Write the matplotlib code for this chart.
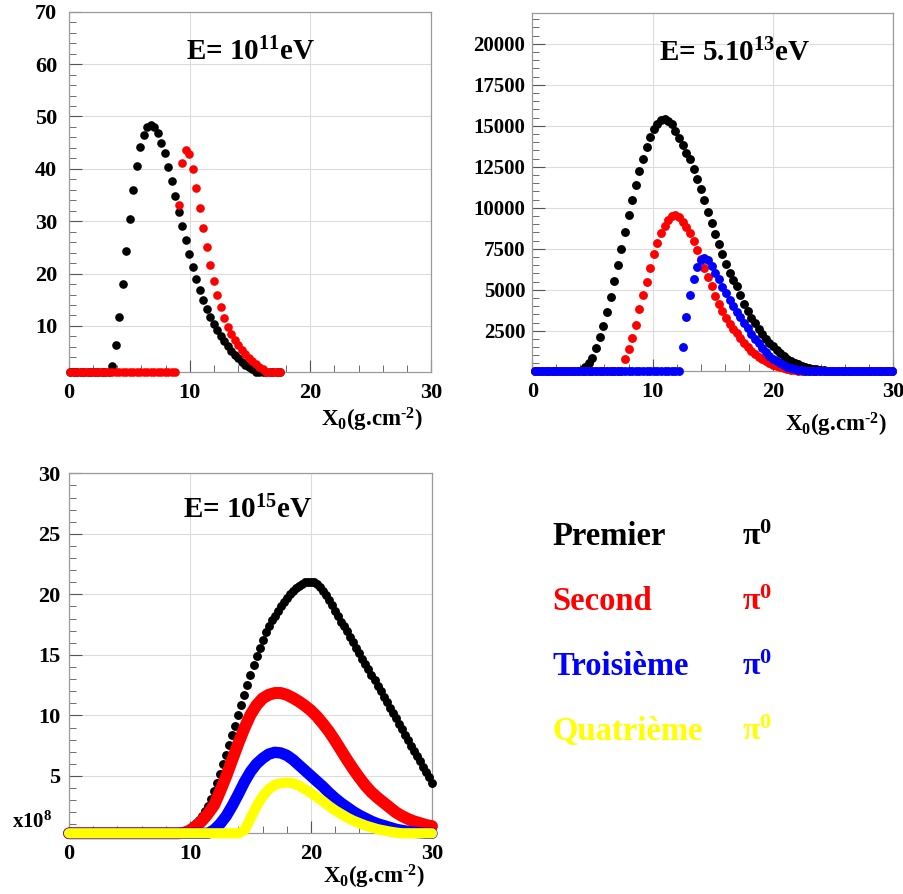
import numpy as np
import matplotlib
matplotlib.use("Agg")
import matplotlib.pyplot as plt
from matplotlib.ticker import MultipleLocator

plt.rcParams['font.family'] = ['Liberation Serif', 'DejaVu Serif']
plt.rcParams['font.weight'] = 'bold'
plt.rcParams['mathtext.fontset'] = 'custom'
plt.rcParams['mathtext.rm'] = 'Liberation Serif:bold'
plt.rcParams['mathtext.it'] = 'Liberation Serif:italic:bold'
plt.rcParams['mathtext.bf'] = 'Liberation Serif:bold'

# ---------------- data ----------------
# Panel 1 : E = 1e11 eV   (x = 0.1 + 0.29 k)
p1_x0, p1_dx = 0.1, 0.29
p1_premier = [0, 0, 0, 0, 0, 0, 0, 0, 0, 0,
              0, 0, 2.4, 6.4, 11.8, 18.0, 24.3, 30.5, 35.9, 40.5,
              44.1, 46.4, 48.0, 48.3, 47.9, 46.8, 45.0, 43.0, 40.4, 37.7,
              34.8, 31.8, 29.1, 26.5, 23.8, 21.3, 19.0, 16.9, 15.0, 13.3,
              11.8, 10.4, 9.2, 8.1, 7.1, 6.1, 5.3, 4.5, 3.8, 3.2,
              2.6, 2.1, 1.7, 1.3, 1.0, 0.7, 0.5, 0.3, 0.15, 0.05,
              0]
p1_second = [0, 0, 0, 0, 0, 0, 0, 0, 0, 0,
             0, 0, 0, 0, 0, 0, 0, 0, 0, 0,
             0, 0, 0, 0, 0, 0, 0, 0, 0, 0,
             0, 33.1, 41.2, 43.6, 42.8, 39.9, 36.4, 32.5, 28.8, 25.0,
             21.6, 18.5, 15.9, 13.7, 11.5, 9.8, 8.5, 7.3, 6.3, 5.4,
             4.6, 3.9, 3.3, 2.7, 2.2, 1.7, 1.3, 0.9, 0.6, 0.3,
             0.1]

# Panel 2 : E = 5.10^13 eV   (x = 0.2 + 0.3 k)
p2_x0, p2_dx = 0.2, 0.3
p2_premier = [0, 0, 0, 0, 0, 0, 0, 0, 0, 0,
              0, 0, 40, 120, 280, 550, 850, 1430, 2100, 2770,
              3650, 4580, 5530, 6500, 7500, 8550, 9550, 10500, 11400, 12250,
              13000, 13700, 14300, 14800, 15120, 15350, 15430, 15300, 15100, 14700,
              14230, 13800, 13350, 12950, 12350, 11750, 11150, 10450, 9750, 9100,
              8400, 7800, 7200, 6550, 6050, 5600, 5200, 4700, 4150, 3700,
              3300, 2950, 2600, 2300, 2020, 1780, 1550, 1350, 1150, 980,
              800, 680, 560, 460, 370, 290, 230, 180, 140, 110,
              85, 65, 50, 38, 28, 20, 15, 10, 7, 5,
              0, 0, 0, 0, 0, 0, 0, 0, 0, 0]
p2_second = [0, 0, 0, 0, 0, 0, 0, 0, 0, 0,
             0, 0, 0, 0, 0, 0, 0, 0, 0, 0,
             0, 0, 0, 0, 0, 780, 1400, 2040, 2850, 3800,
             4650, 5480, 6300, 7200, 7880, 8480, 8880, 9275, 9480, 9550,
             9420, 9150, 8850, 8450, 7980, 7450, 6900, 6350, 5800, 5200,
             4620, 4150, 3700, 3250, 2900, 2600, 2330, 2050, 1780, 1520,
             1280, 1080, 900, 750, 630, 520, 420, 330, 260, 200,
             150, 110, 80, 55, 40, 28, 18, 10, 5, 0,
             0, 0, 0, 0, 0, 0, 0, 0, 0, 0,
             0, 0, 0, 0, 0, 0, 0, 0, 0, 0]
p2_troisieme = [0, 0, 0, 0, 0, 0, 0, 0, 0, 0,
                0, 0, 0, 0, 0, 0, 0, 0, 0, 0,
                0, 0, 0, 0, 0, 0, 0, 0, 0, 0,
                0, 0, 0, 0, 0, 0, 0, 0, 0, 0,
                0, 1500, 3350, 4650, 5650, 6400, 6800, 6930, 6800, 6450,
                6000, 5650, 5150, 4800, 4400, 4000, 3650, 3320, 3000, 2650,
                2320, 2020, 1720, 1430, 1180, 960, 780, 630, 500, 400,
                310, 240, 180, 130, 95, 70, 50, 35, 22, 12,
                6, 0, 0, 0, 0, 0, 0, 0, 0, 0,
                0, 0, 0, 0, 0, 0, 0, 0, 0, 0]

# Panel 3 : E = 1e15 eV  (units of 1e8)
p3_dx_premier = 0.25
p3_premier = [0, 0, 0, 0, 0, 0, 0, 0,
              0, 0, 0, 0, 0, 0, 0, 0,
              0, 0, 0, 0, 0, 0, 0, 0,
              0, 0, 0, 0, 0.01, 0.01, 0.02, 0.03,
              0.05, 0.08, 0.12, 0.17, 0.24, 0.32, 0.42, 0.55,
              0.7, 0.88, 1.1, 1.38, 1.7, 2.1, 2.55, 3.1,
              3.75, 4.45, 5.2, 5.95, 6.75, 7.55, 8.35, 9.15,
              10.0, 10.85, 11.7, 12.55, 13.35, 14.15, 14.9, 15.6,
              16.25, 16.85, 17.4, 17.85, 18.25, 18.65, 19.0, 19.35,
              19.7, 20.0, 20.3, 20.5, 20.7, 20.85, 20.98, 21.05,
              21.05, 21.0, 20.85, 20.6, 20.3, 19.95, 19.55, 19.1,
              18.65, 18.2, 17.75, 17.35, 16.95, 16.5, 16.05, 15.6,
              15.15, 14.7, 14.25, 13.8, 13.35, 12.9, 12.45, 12.0,
              11.55, 11.1, 10.65, 10.2, 9.75, 9.3, 8.85, 8.4,
              7.95, 7.5, 7.1, 6.65, 6.2, 5.75, 5.3, 4.88,
              4.45]
p3_dx_other = 0.5
p3_second = [0, 0, 0, 0, 0, 0, 0, 0, 0, 0, 0, 0, 0, 0, 0, 0,
             0.04, 0.08, 0.15, 0.3, 0.5, 0.85, 1.3, 1.9,
             2.6, 3.75, 5.0, 6.35, 7.7, 8.95, 10.05, 10.85,
             11.4, 11.7, 11.85, 11.85, 11.7, 11.45, 11.15, 10.8,
             10.4, 9.9, 9.3, 8.65, 7.9, 7.1, 6.3, 5.55,
             4.85, 4.2, 3.65, 3.2, 2.8, 2.4, 2.0, 1.7,
             1.45, 1.25, 1.1, 0.95, 0.85]
p3_troisieme = [0, 0, 0, 0, 0, 0, 0, 0, 0, 0, 0, 0, 0, 0, 0, 0,
                0, 0, 0, 0, 0, 0, 0.05, 0.2,
                0.55, 1.05, 1.7, 2.55, 3.5, 4.5, 5.35, 6.0,
                6.45, 6.8, 6.95, 6.9, 6.7, 6.35, 5.9, 5.45,
                5.0, 4.55, 4.1, 3.6, 3.15, 2.75, 2.4, 2.05,
                1.75, 1.5, 1.25, 1.05, 0.9, 0.75, 0.6, 0.5,
                0.42, 0.35, 0.3, 0.25, 0.2]
p3_quatrieme = [0, 0, 0, 0, 0, 0, 0, 0, 0, 0, 0, 0, 0, 0, 0, 0,
                0, 0, 0, 0, 0, 0, 0, 0, 0, 0, 0, 0,
                0.0, 0.5, 1.5, 2.5, 3.3, 3.9, 4.25, 4.4,
                4.45, 4.4, 4.2, 3.9, 3.6, 3.25, 2.9, 2.5,
                2.15, 1.85, 1.55, 1.3, 1.1, 0.9, 0.75, 0.6,
                0.5, 0.4, 0.32, 0.25, 0.2, 0.15, 0.12, 0.1, 0.08]

legend_labels = ['Premier', 'Second', 'Troisième', 'Quatrième']
colors = ['#000000', '#ff0000', '#0000ff', '#ffff00']
titles = [r'E= 10$^{11}$eV', r'E= 5.10$^{13}$eV', r'E= 10$^{15}$eV']
xlabel = r'X$_{0}$(g.cm$^{\text{-2}}$)'

# ---------------- figure ----------------
W, H = 904, 894
fig = plt.figure(figsize=(W / 100, H / 100), dpi=100)
fig.patch.set_facecolor('white')


def px_axes(l, t, r, b):
    return fig.add_axes([l / W, 1 - b / H, (r - l) / W, (b - t) / H])


def style(ax, ylim, ymaj, ymin, ysize, ypad):
    ax.set_xlim(0, 30)
    ax.set_ylim(*ylim)
    ax.xaxis.set_major_locator(MultipleLocator(10))
    ax.xaxis.set_minor_locator(MultipleLocator(2))
    ax.yaxis.set_major_locator(MultipleLocator(ymaj))
    ax.yaxis.set_minor_locator(MultipleLocator(ymin))
    ax.tick_params(which='both', direction='in', top=False, right=False,
                   color='#555555')
    ax.tick_params(which='major', length=9, width=0.8)
    ax.tick_params(which='minor', length=5, width=0.6)
    ax.tick_params(axis='x', labelsize=16, pad=8)
    ax.tick_params(axis='y', labelsize=ysize, pad=ypad)
    ax.grid(True, which='major', color='#dcdcdc', lw=0.8)
    ax.set_axisbelow(True)
    for s in ax.spines.values():
        s.set_color('#9a9a9a')
        s.set_linewidth(0.9)
    for lbl in ax.get_xticklabels() + ax.get_yticklabels():
        lbl.set_fontweight('bold')


def dots(ax, x0, dx, y, color, ms, ylo):
    y = np.asarray(y, dtype=float)
    x = x0 + dx * np.arange(len(y))
    ax.plot(x, np.maximum(y, ylo), 'o', color=color, ms=ms, mew=0,
            clip_on=False, zorder=3)


# Panel 1
ax1 = px_axes(69, 11.7, 431, 371.7)
y1lo = 1.27
style(ax1, (y1lo, 70), 10, 2, 16, 8.5)
dots(ax1, p1_x0, p1_dx, p1_premier, colors[0], 6.2, y1lo)
dots(ax1, p1_x0, p1_dx, p1_second, colors[1], 6.2, y1lo)
ax1.text(0.503, 0.888, titles[0], transform=ax1.transAxes, ha='center',
         va='center', fontsize=21, fontweight='bold')
ax1.text(0.978, -0.134, xlabel, transform=ax1.transAxes, ha='right',
         va='center', fontsize=16.5, fontweight='bold')

# Panel 2
ax2 = px_axes(532.3, 12.7, 893.3, 370.7)
y2lo = 60
style(ax2, (y2lo, 21900), 2500, 500, 15, 5)
dots(ax2, p2_x0, p2_dx, p2_premier, colors[0], 6.4, y2lo)
dots(ax2, p2_x0, p2_dx, p2_second, colors[1], 6.4, y2lo)
dots(ax2, p2_x0, p2_dx, p2_troisieme, colors[2], 6.4, y2lo)
ax2.text(0.561, 0.887, titles[1], transform=ax2.transAxes, ha='center',
         va='center', fontsize=21, fontweight='bold')
ax2.text(0.9826, -0.152, xlabel, transform=ax2.transAxes, ha='right',
         va='center', fontsize=16.5, fontweight='bold')

# Panel 3
ax3 = px_axes(69, 473.3, 432, 833.3)
y3lo = 0.26
style(ax3, (y3lo, 30), 5, 1, 16, 6)
yb = np.asarray(p3_premier, dtype=float)
ax3.plot(p3_dx_premier * np.arange(len(yb)), np.maximum(yb, y3lo), 'o',
         color=colors[0], ms=6.4, mew=0, clip_on=False, zorder=3)
for ser, col, lw in [(p3_second, colors[1], 8.6), (p3_troisieme, colors[2], 8.2),
                     (p3_quatrieme, colors[3], 7.4)]:
    ys = np.asarray(ser, dtype=float)
    ax3.plot(p3_dx_other * np.arange(len(ys)), np.maximum(ys, y3lo), '-',
             color=col, lw=lw, solid_capstyle='round', solid_joinstyle='round',
             clip_on=False, zorder=3)
ax3.text(0.493, 0.898, titles[2], transform=ax3.transAxes, ha='center',
         va='center', fontsize=21, fontweight='bold')
ax3.text(0.981, -0.121, xlabel, transform=ax3.transAxes, ha='right',
         va='center', fontsize=16.5, fontweight='bold')
fig.text(12 / W, 1 - 828 / H, r'x10$^{8}$', fontsize=15, fontweight='bold',
         va='baseline', ha='left')

# Legend block
baselines = [545, 610, 675, 740]
for lab, col, yb_ in zip(legend_labels, colors, baselines):
    fig.text(552 / W, 1 - yb_ / H, lab, color=col, fontsize=23.5,
             fontweight='bold', va='baseline', ha='left')
    fig.text(742 / W, 1 - yb_ / H, r'$\mathrm{\pi}^{0}$', color=col,
             fontsize=23, va='baseline', ha='left')

fig.savefig('out.png', dpi=100, facecolor='white')
